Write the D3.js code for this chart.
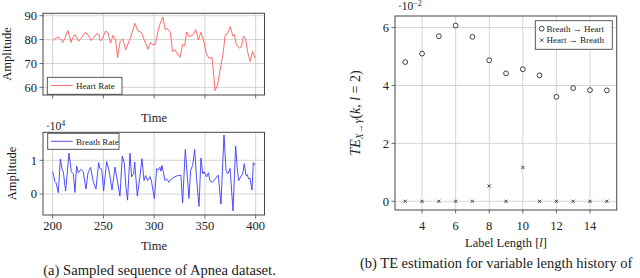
<!DOCTYPE html>
<html><head><meta charset="utf-8">
<script src="https://cdn.jsdelivr.net/npm/d3@7"></script>
<style>
body{margin:0;background:#fff;}
svg text{font-family:"Liberation Serif","DejaVu Serif",serif;}
</style></head>
<body><svg id="c" width="640" height="278" font-family="Liberation Serif, DejaVu Serif, serif"></svg>
<script>
// ---- Data ----
const heartT = [200,202,204,206,208,210,212,215,217,218,220,222,224,225.5,228,232,235,238,240,243,245.5,247,249,252,254.5,257,259.5,262,264,266.5,269,272,275,277,279,281,284,287.5,290,294,296.5,298.5,301,305,308.5,311,313,316,318,320.5,323,325.5,328,330,332,334.5,338.5,341,343.5,346,349,351.5,354,357,358.5,360,362.5,365,368,370,372.5,375,377.5,379,381,384,386,388,390,392,394.5,397,399.5];
const heartV = [79.6,80.2,80.8,81.0,80.0,78.8,80.5,83.8,81,78.8,81,82.2,80.5,79.3,80.5,83,82,79.6,80.5,82.4,82,79.4,80.3,83.5,82.9,78.5,81.8,79.9,72.5,79.2,80.3,75.7,79,81.3,84,86.8,83.6,83,80,76,78.8,77.9,78,85.7,89.4,84,84.7,83,75,75.7,74,72.6,77.9,77.4,83.2,81.2,82,84.2,79.9,83,79.2,74,72.2,72.5,66,58.6,61,67.4,74.3,82,82.6,85.4,81.5,82,77.8,76.4,77,81.5,80.5,75,70.8,75,72.2];
const breathT = [200,202.3,203.3,205.6,207.6,209.5,210.5,212.8,216.1,218.4,220.4,222,223.6,225.3,227.6,230.2,232.8,234.8,237.4,240,242.7,245.3,246.6,248.3,250.2,253.2,255.5,258.5,261.4,263.7,266.3,268.6,270.6,272.2,273.8,276.2,277.8,279.8,280.8,283.4,286,288,290,291.6,293.6,295.9,297.5,300.2,302.5,304.1,305.7,306.7,307.7,309,310.7,312.3,314.6,316.3,320.5,323.8,326.4,328,330.7,332.7,334.3,336,337.9,339.9,341.8,344.2,346.1,347.8,349.1,351.7,353.4,355,357.3,363.2,365.8,368.8,370.8,372.5,374.8,377.7,380.3,382,383.3,385.3,387.2,388.8,390.5,391.8,393,394.4,396.4,397.7,399.3];
const breathV = [0.66,0.37,0.34,0.04,1.04,0.71,0.66,0.09,1.21,0.66,0.60,0.05,0.83,0.63,0.73,0.66,0.15,0.62,0.79,0.37,0.15,0.93,0.76,0.74,0.09,0.96,0.71,0.12,0.8,0.4,-0.06,1.13,0.91,0.22,-0.18,1.21,0.51,0.6,0.95,-0.06,0.51,1.05,0.4,0.55,0.4,0.52,0.36,-0.14,0.76,0.71,0.8,0.68,0.85,0.66,0.4,0.45,0.35,0.43,0.52,0.55,0.55,-0.26,1.32,0.51,-0.13,0.71,0.85,1.32,0.45,-0.37,1.07,0.6,0.66,0.51,0.63,0.4,0.35,0.56,-0.3,1.75,0.71,0.6,0.76,-0.5,1.42,0.71,0.4,0.51,0.6,0.9,0.55,0.57,0.45,0.47,0.12,0.93,0.86];
const timeTicks = [200,250,300,350,400];
const heartTicks = [60,70,80,90];
const breathTicks = [0,1];
const labelLen = [3,4,5,6,7,8,9,10,11,12,13,14,15];
const breathToHeart = [4.81,5.10,5.70,6.07,5.68,4.87,4.42,4.56,4.35,3.61,3.91,3.84,3.83];
const heartToBreath = [0,0,0,0,0,0.53,0,1.17,0,0,0,0,0];
const lenTicks = [4,6,8,10,12,14];
const teTicks = [0,2,4,6];

const svg = d3.select("#c");
const GRID="#cfcfcf", FRAME="#474747", TXT="#222";

function panel(xs, ys, xt, yt, showXLabels){
  const g = svg.append("g");
  const [x0,x1]=xs.range(), [y0,y1]=ys.range();
  g.selectAll(".vg").data(xt).join("line").attr("x1",d=>xs(d)).attr("x2",d=>xs(d)).attr("y1",y1).attr("y2",y0).attr("stroke",GRID).attr("stroke-width",0.9);
  g.selectAll(".hg").data(yt).join("line").attr("x1",x0).attr("x2",x1).attr("y1",d=>ys(d)).attr("y2",d=>ys(d)).attr("stroke",GRID).attr("stroke-width",0.9);
  g.selectAll(".xt").data(xt).join("line").attr("x1",d=>xs(d)).attr("x2",d=>xs(d)).attr("y1",y0).attr("y2",y0+3.5).attr("stroke",FRAME).attr("stroke-width",0.8);
  g.selectAll(".yt").data(yt).join("line").attr("x1",x0-3.5).attr("x2",x0).attr("y1",d=>ys(d)).attr("y2",d=>ys(d)).attr("stroke",FRAME).attr("stroke-width",0.8);
  g.selectAll(".ytl").data(yt).join("text").attr("class","ytl").attr("x",x0-6).attr("y",d=>ys(d)).attr("dy","0.35em").attr("text-anchor","end").attr("font-size",12.5).attr("fill",TXT).text(d=>d);
  if(showXLabels) g.selectAll(".xtl").data(xt).join("text").attr("class","xtl").attr("x",d=>xs(d)).attr("y",y0+14.5).attr("text-anchor","middle").attr("font-size",12.5).attr("fill",TXT).text(d=>d);
  return g;
}
function frame(g, xs, ys){
  const [x0,x1]=xs.range(), [y0,y1]=ys.range();
  g.append("rect").attr("x",x0).attr("y",y1).attr("width",x1-x0).attr("height",y0-y1).attr("fill","none").attr("stroke",FRAME).attr("stroke-width",1);
}

// ---- (a) top: heart rate ----
const xa = d3.scaleLinear().domain([190.5,408.7]).range([43,264.5]);
const yh = d3.scaleLinear().domain([56.8,91]).range([95,13.3]);
const g1 = panel(xa, yh, timeTicks, heartTicks, false);
g1.append("path").datum(heartT.map((t,i)=>[t,heartV[i]]))
  .attr("d", d3.line().x(d=>xa(d[0])).y(d=>yh(d[1])))
  .attr("fill","none").attr("stroke","#ff5a5a").attr("stroke-width",0.9);
g1.append("rect").attr("x",47.3).attr("y",77.3).attr("width",74.7).attr("height",17).attr("fill","#fff").attr("stroke",FRAME).attr("stroke-width",0.9);
g1.append("line").attr("x1",51).attr("x2",72.7).attr("y1",85.5).attr("y2",85.5).attr("stroke","#ff5a5a").attr("stroke-width",0.9);
g1.append("text").attr("x",76).attr("y",88.7).attr("font-size",9).attr("fill",TXT).text("Heart Rate");
frame(g1, xa, yh);
svg.append("text").attr("x",154).attr("y",122).attr("text-anchor","middle").attr("font-size",12.5).attr("fill",TXT).text("Time");
svg.append("text").attr("transform","translate(11,54) rotate(-90)").attr("text-anchor","middle").attr("font-size",12.5).attr("fill",TXT).text("Amplitude");

// ---- (a) bottom: breath rate ----
const yb = d3.scaleLinear().domain([-0.62,1.83]).range([215,132.3]);
const g2 = panel(xa, yb, timeTicks, breathTicks, true);
g2.append("path").datum(breathT.map((t,i)=>[t,breathV[i]]))
  .attr("d", d3.line().x(d=>xa(d[0])).y(d=>yb(d[1])))
  .attr("fill","none").attr("stroke","#3b3bff").attr("stroke-width",0.9);
g2.append("rect").attr("x",47.7).attr("y",133.3).attr("width",71.3).attr("height",16).attr("fill","#fff").attr("stroke",FRAME).attr("stroke-width",0.9);
g2.append("line").attr("x1",51).attr("x2",72.7).attr("y1",141.3).attr("y2",141.3).attr("stroke","#3b3bff").attr("stroke-width",0.9);
g2.append("text").attr("x",76).attr("y",144.5).attr("font-size",9).attr("fill",TXT).text("Breath Rate");
frame(g2, xa, yb);
const e4 = svg.append("text").attr("x",46).attr("y",129.5).attr("font-size",11.5).attr("fill",TXT);
e4.append("tspan").text("·10");
e4.append("tspan").attr("dy",-4).attr("font-size",8).text("4");
svg.append("text").attr("x",154).attr("y",250).attr("text-anchor","middle").attr("font-size",12.5).attr("fill",TXT).text("Time");
svg.append("text").attr("transform","translate(15.5,173.5) rotate(-90)").attr("text-anchor","middle").attr("font-size",12.5).attr("fill",TXT).text("Amplitude");
svg.append("text").attr("x",159.5).attr("y",275).attr("text-anchor","middle").attr("font-size",14.6).attr("fill",TXT).text("(a) Sampled sequence of Apnea dataset.");

// ---- (b) TE ----
const xl = d3.scaleLinear().domain([2.39,15.59]).range([395,616.7]);
const yt = d3.scaleLinear().domain([-0.3,6.4]).range([210,16]);
const g3 = panel(xl, yt, lenTicks, teTicks, true);
g3.selectAll(".xtl").attr("y",229.5);
g3.selectAll(".cx").data(labelLen).join("path")
  .attr("transform",(d,i)=>`translate(${xl(d)},${yt(heartToBreath[i])})`)
  .attr("d","M-1.6,-1.6L1.6,1.6M-1.6,1.6L1.6,-1.6").attr("stroke","#111").attr("stroke-width",0.8);
g3.selectAll(".ci").data(labelLen).join("circle")
  .attr("cx",d=>xl(d)).attr("cy",(d,i)=>yt(breathToHeart[i])).attr("r",2.4)
  .attr("fill","#fff").attr("stroke","#111").attr("stroke-width",0.8);
frame(g3, xl, yt);
g3.append("rect").attr("x",535.3).attr("y",20.7).attr("width",77).attr("height",28.6).attr("fill","#fff").attr("stroke",FRAME).attr("stroke-width",0.9);
g3.append("circle").attr("cx",541.7).attr("cy",28.7).attr("r",2.4).attr("fill","#fff").attr("stroke","#111").attr("stroke-width",0.8);
g3.append("path").attr("transform","translate(541.7,40.2)").attr("d","M-1.6,-1.6L1.6,1.6M-1.6,1.6L1.6,-1.6").attr("stroke","#111").attr("stroke-width",0.8);
g3.append("text").attr("x",546.5).attr("y",31.8).attr("font-size",9).attr("fill",TXT).text("Breath \u2192 Heart");
g3.append("text").attr("x",546.5).attr("y",43.3).attr("font-size",9).attr("fill",TXT).text("Heart \u2192 Breath");
const e2 = svg.append("text").attr("x",398).attr("y",10).attr("font-size",11.5).attr("fill",TXT);
e2.append("tspan").text("·10");
e2.append("tspan").attr("dy",-4).attr("font-size",8).text("\u22122");
svg.append("text").attr("x",506).attr("y",247).attr("text-anchor","middle").attr("font-size",12.5).attr("fill",TXT)
  .html('Label Length [<tspan font-style="italic">l</tspan>]');
const yl = svg.append("text").attr("transform","translate(360,113) rotate(-90)").attr("text-anchor","middle").attr("font-size",14).attr("fill",TXT);
yl.append("tspan").attr("font-style","italic").text("TE");
yl.append("tspan").attr("font-style","italic").attr("font-size",9.5).attr("dy",3).text("X\u2192Y");
yl.append("tspan").attr("dy",-3).text("(");
yl.append("tspan").attr("font-style","italic").text("k");
yl.append("tspan").text(", ");
yl.append("tspan").attr("font-style","italic").text("l");
yl.append("tspan").text(" = 2)");
svg.append("text").attr("x",360).attr("y",268).attr("font-size",14.5).attr("fill",TXT).text("(b) TE estimation for variable length history of");
</script></body></html>
